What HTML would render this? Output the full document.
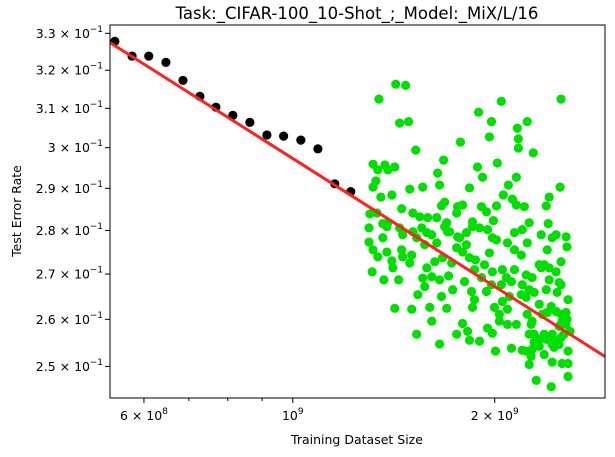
<!DOCTYPE html>
<html><head><meta charset="utf-8"><style>
html,body{margin:0;padding:0;background:#fff;}
svg{display:block;font-family:"DejaVu Sans","Liberation Sans",sans-serif;}
</style></head><body>
<svg id="chart" width="615" height="457" viewBox="0 0 615 457" xmlns="http://www.w3.org/2000/svg">
<text x="357" y="19" text-anchor="middle" font-size="16.5" fill="#000">Task:_CIFAR-100_10-Shot_;_Model:_MiX/L/16</text>
<text x="357" y="444" text-anchor="middle" font-size="12.5" fill="#000">Training Dataset Size</text>
<text transform="translate(21,211) rotate(-90)" text-anchor="middle" font-size="12.5" fill="#000">Test Error Rate</text>
<g id="marks"></g>
<g id="axes"></g>
</svg>
<script>
// black points (training sizes, error)
const blackX = [5.43e8,5.76e8,6.10e8,6.47e8,6.86e8,7.27e8,7.68e8,8.14e8,8.63e8,9.15e8,9.69e8,1.028e9,1.090e9,1.155e9,1.220e9];
const blackY = [0.3278,0.3238,0.3238,0.3221,0.3173,0.3131,0.3103,0.3082,0.3064,0.3032,0.3029,0.3019,0.2997,0.2911,0.2892];
// green points, x in units of 1e9
const greenX = [1.344,1.424,1.473,2.046,2.511,1.892,1.978,1.443,1.488,2.236,2.161,1.964,2.169,1.778,2.169,2.283,1.525,1.678,2.018,1.317,1.372,1.419,1.339,1.386,1.885,1.644,1.918,2.154,1.330,1.317,1.655,1.562,1.494,1.834,2.096,2.503,1.405,1.353,2.060,2.125,2.411,1.684,1.666,1.791,1.761,2.012,2.154,2.214,2.387,1.911,1.944,1.453,1.303,1.335,1.510,1.546,1.589,1.639,1.755,1.991,2.251,2.403,1.362,1.386,1.696,1.853,
1.299,1.362,1.317,1.339,1.381,1.405,1.410,1.367,1.438,1.453,1.458,1.504,1.494,1.536,1.419,1.600,1.696,1.666,1.562,1.611,1.573,1.655,1.707,1.731,1.584,1.628,1.530,1.573,1.611,1.639,1.701,1.755,1.791,1.834,1.672,1.725,1.772,1.815,1.872,1.931,1.964,1.866,1.911,1.803,1.847,1.866,1.853,1.944,1.978,1.984,2.053,2.140,2.082,2.118,2.046,1.998,2.032,2.089,2.053,2.103,2.032,2.089,2.154,1.791,1.822,1.755,1.834,1.898,1.951,1.984,1.530,1.655,2.005,2.118,2.198,2.228,2.274,2.198,2.251,2.191,2.228,2.290,2.387,2.411,2.469,2.511,2.330,2.346,2.370,2.411,2.494,2.511,2.477,2.572,2.330,2.236,2.274,2.266,2.354,2.395,2.428,2.469,2.511,2.555,2.520,2.555,2.563,2.494,2.590,2.251,2.290,2.330,2.370,2.411,2.436,2.469,2.511,2.537,2.290,2.330,2.274,2.387,2.436,2.494,2.370,2.452,2.572,2.251,2.436,2.520,2.572,2.572,2.306,2.428,2.228,2.266,
1.381,1.443,1.458,1.510,1.557,1.584,1.684,1.713,1.761,1.815,1.853,1.898,1.951,1.984,2.012,2.089,2.140,2.198,2.346,2.436,2.555,2.563,2.140,2.236,2.191,2.469,2.395,1.299,1.313,1.504,1.611];
const greenY = [0.3124,0.3163,0.3160,0.3118,0.3124,0.3090,0.3066,0.3062,0.3066,0.3066,0.3049,0.3027,0.3022,0.3014,0.2999,0.2987,0.2994,0.2969,0.2962,0.2959,0.2957,0.2952,0.2945,0.2945,0.2952,0.2937,0.2927,0.2927,0.2918,0.2903,0.2908,0.2903,0.2898,0.2901,0.2908,0.2903,0.2884,0.2879,0.2884,0.2874,0.2879,0.2867,0.2858,0.2860,0.2856,0.2858,0.2860,0.2856,0.2858,0.2856,0.2844,0.2851,0.2839,0.2841,0.2841,0.2832,0.2830,0.2830,0.2841,0.2823,0.2818,0.2816,0.2816,0.2818,0.2818,0.2820,
0.2773,0.2783,0.2755,0.2739,0.2750,0.2730,0.2714,0.2687,0.2687,0.2755,0.2739,0.2743,0.2725,0.2654,0.2624,0.2626,0.2624,0.2650,0.2691,0.2694,0.2672,0.2687,0.2696,0.2665,0.2714,0.2728,0.2783,0.2767,0.2790,0.2771,0.2797,0.2760,0.2750,0.2737,0.2737,0.2725,0.2783,0.2767,0.2732,0.2721,0.2748,0.2710,0.2692,0.2683,0.2661,0.2643,0.2626,0.2661,0.2676,0.2705,0.2710,0.2710,0.2692,0.2683,0.2676,0.2626,0.2611,0.2622,0.2639,0.2650,0.2596,0.2589,0.2589,0.2591,0.2574,0.2568,0.2555,0.2553,0.2581,0.2570,0.2568,0.2547,0.2532,0.2538,0.2534,0.2698,0.2692,0.2676,0.2665,0.2654,0.2648,0.2659,0.2665,0.2687,0.2705,0.2728,0.2721,0.2714,0.2721,0.2714,0.2681,0.2676,0.2659,0.2643,0.2633,0.2611,0.2596,0.2589,0.2611,0.2615,0.2628,0.2617,0.2611,0.2615,0.2596,0.2589,0.2600,0.2585,0.2574,0.2568,0.2568,0.2557,0.2568,0.2561,0.2568,0.2553,0.2561,0.2568,0.2551,0.2542,0.2536,0.2557,0.2546,0.2546,0.2525,0.2540,0.2532,0.2504,0.2509,0.2506,0.2506,0.2479,0.2471,0.2458,0.2532,0.2521,
0.2809,0.2806,0.2790,0.2797,0.2806,0.2795,0.2809,0.2797,0.2785,0.2795,0.2809,0.2806,0.2802,0.2783,0.2778,0.2771,0.2795,0.2802,0.2790,0.2783,0.2785,0.2762,0.2755,0.2771,0.2743,0.2790,0.2755,0.2806,0.2705,0.2622,0.2596];
// power-law fit: y = fitA * (x/1e9)^fitB
const fitA = 0.2973;
const fitB = -0.154;
const xTickVals = [6e8, 1e9, 2e9];
const xTickMant = ["6", "", "2"];
const xTickExp = ["8", "9", "9"];
const xMinorVals = [7e8, 8e8, 9e8];
const yTickVals = [0.33,0.32,0.31,0.30,0.29,0.28,0.27,0.26,0.25];
const yTickMant = ["3.3","3.2","3.1","3","2.9","2.8","2.7","2.6","2.5"];

const L=110,R=605,T=25,B=398;
const xMin=Math.log10(5.34e8), xMax=Math.log10(2.92e9);
const yMin=Math.log10(0.2435), yMax=Math.log10(0.3323);
const sx=v=>L+(Math.log10(v)-xMin)/(xMax-xMin)*(R-L);
const sy=v=>B-(Math.log10(v)-yMin)/(yMax-yMin)*(B-T);
const NS="http://www.w3.org/2000/svg";
const marks=document.getElementById('marks'), axes=document.getElementById('axes');
function mk(tag,attrs,parent){const e=document.createElementNS(NS,tag);for(const k in attrs)e.setAttribute(k,attrs[k]);parent.appendChild(e);return e;}

const clip=mk('clipPath',{id:'plotclip'},marks);
mk('rect',{x:L,y:T,width:R-L,height:B-T},clip);
const g=mk('g',{'clip-path':'url(#plotclip)'},marks);

for(let i=0;i<greenX.length;i++){
  const c=mk('circle',{cx:sx(greenX[i]*1e9),cy:sy(greenY[i]),r:4.6,fill:'#00e000'},g);
  
  
}
for(let i=0;i<blackX.length;i++){
  const c=mk('circle',{cx:sx(blackX[i]),cy:sy(blackY[i]),r:4.6,fill:'#000'},g);
  
  
}
const x0=5.34e8, x1=2.92e9;
const fl=mk('line',{x1:sx(x0),y1:sy(fitA*Math.pow(x0/1e9,fitB)),x2:sx(x1),y2:sy(fitA*Math.pow(x1/1e9,fitB)),stroke:'#ff2020',"stroke-width":3},g);



const frame=mk('rect',{x:L,y:T,width:R-L,height:B-T,fill:'none',stroke:'#000','stroke-width':1},axes);



xTickVals.forEach((v,i)=>{
  const x=sx(v);
  mk('line',{x1:x,y1:B,x2:x,y2:B+5,stroke:'#000'},axes);
  const t=mk('text',{x:x,y:B+22,'text-anchor':'middle','font-size':12.5,fill:'#000'},axes);
  
  
  const base=(xTickMant[i]?xTickMant[i]+" \u00d7 ":"")+"10";
  t.appendChild(document.createTextNode(base));
  const s=mk('tspan',{dy:-6,'font-size':9},t); s.textContent=xTickExp[i];
});
xMinorVals.forEach(v=>{const x=sx(v);mk('line',{x1:x,y1:B,x2:x,y2:B+3,stroke:'#000'},axes);});

yTickVals.forEach((v,i)=>{
  const y=sy(v);
  mk('line',{x1:L-5,y1:y,x2:L,y2:y,stroke:'#000'},axes);
  const t=mk('text',{x:L-8-12,y:y+4.5,'text-anchor':'end','font-size':12.5,fill:'#000'},axes);
  
  
  t.appendChild(document.createTextNode(yTickMant[i]+" \u00d7 10"));
  const s=mk('text',{x:L-7,y:y-1.5,'text-anchor':'end','font-size':9,fill:'#000'},axes);
  s.textContent="\u22121";
});
</script>
</body></html>
